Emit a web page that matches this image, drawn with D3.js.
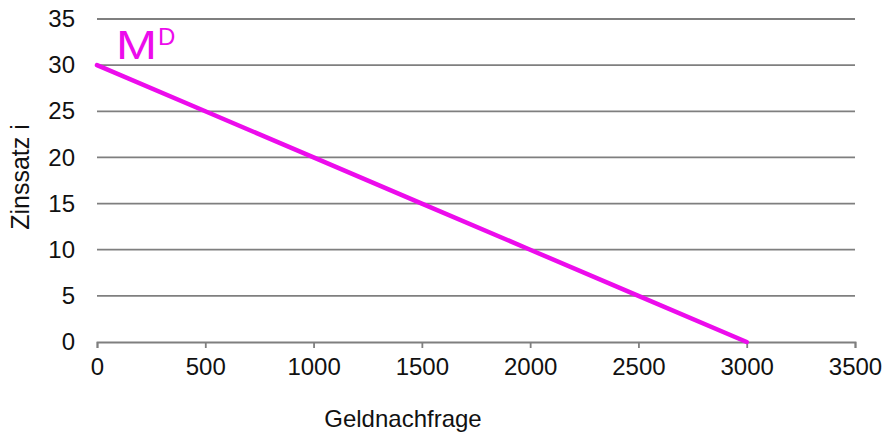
<!DOCTYPE html>
<html>
<head>
<meta charset="utf-8">
<script src="https://cdn.jsdelivr.net/npm/d3@7"></script>
<style>
  html, body { margin: 0; padding: 0; background: #fff; }
  svg text { font-family: "Liberation Sans", Arial, sans-serif; fill: #111; }
</style>
</head>
<body>
<svg id="chart" width="886" height="436"></svg>
<script>
// Money demand curve: interest rate vs. money demanded
const demand = [0, 500, 1000, 1500, 2000, 2500, 3000];
const rate = [30, 25, 20, 15, 10, 5, 0];
const xTicks = [0, 500, 1000, 1500, 2000, 2500, 3000, 3500];
const yTicks = [0, 5, 10, 15, 20, 25, 30, 35];
const xTitle = "Geldnachfrage";
const yTitle = "Zinssatz i";
const curveLabel = "M";
const curveSup = "D";

const svg = d3.select("#chart");
const margin = { left: 97, right: 31, top: 19, bottom: 94 };
const W = 886, H = 436;

const x = d3.scaleLinear().domain([0, 3500]).range([margin.left, W - margin.right]);
const y = d3.scaleLinear().domain([0, 35]).range([H - margin.bottom, margin.top]);

const gridColor = "#7f7f7f";
const curveColor = "#EC0CEC";
const fontFam = "'Liberation Sans', Arial, sans-serif";

// horizontal gridlines
svg.append("g")
  .selectAll("line")
  .data(yTicks.filter(d => d > 0))
  .join("line")
  .attr("x1", x(0)).attr("x2", x(3500))
  .attr("y1", d => y(d)).attr("y2", d => y(d))
  .attr("stroke", gridColor).attr("stroke-width", 1.8);

// x axis
const xAxis = svg.append("g")
  .attr("transform", `translate(0,${y(0)})`)
  .call(d3.axisBottom(x).tickValues(xTicks).tickSize(6).tickPadding(10).tickFormat(d3.format("d")));
xAxis.select(".domain").attr("stroke", gridColor).attr("stroke-width", 1.8);
xAxis.selectAll(".tick line").attr("stroke", gridColor).attr("stroke-width", 1.8);
xAxis.selectAll("text").attr("font-size", 24).attr("fill", "#111").attr("font-family", fontFam);

// y axis (labels only)
const yAxis = svg.append("g")
  .attr("transform", `translate(${x(0)},0)`)
  .call(d3.axisLeft(y).tickValues(yTicks).tickSize(0).tickPadding(22).tickFormat(d3.format("d")));
yAxis.select(".domain").remove();
yAxis.selectAll("text").attr("font-size", 24).attr("fill", "#111").attr("font-family", fontFam);

// axis titles
svg.append("text")
  .attr("x", 403).attr("y", 427)
  .attr("text-anchor", "middle")
  .attr("font-size", 24)
  .text(xTitle);

svg.append("text")
  .attr("transform", `translate(29,177) rotate(-90)`)
  .attr("text-anchor", "middle")
  .attr("font-size", 25)
  .text(yTitle);

// demand curve
const line = d3.line().x(d => x(d)).y((d, i) => y(rate[i]));
svg.append("path")
  .datum(demand)
  .attr("d", line)
  .attr("fill", "none")
  .attr("stroke", curveColor)
  .attr("stroke-width", 4.5)
  .attr("stroke-linecap", "round");

// curve label M^D
const lab = svg.append("text")
  .attr("x", 116).attr("y", 59)
  .attr("font-size", 41)
  .style("fill", curveColor);
lab.append("tspan").attr("textLength", 41).attr("lengthAdjust", "spacingAndGlyphs").text(curveLabel);
lab.append("tspan").attr("font-size", 24).attr("dx", 1).attr("dy", -14).text(curveSup);
</script>
</body>
</html>
